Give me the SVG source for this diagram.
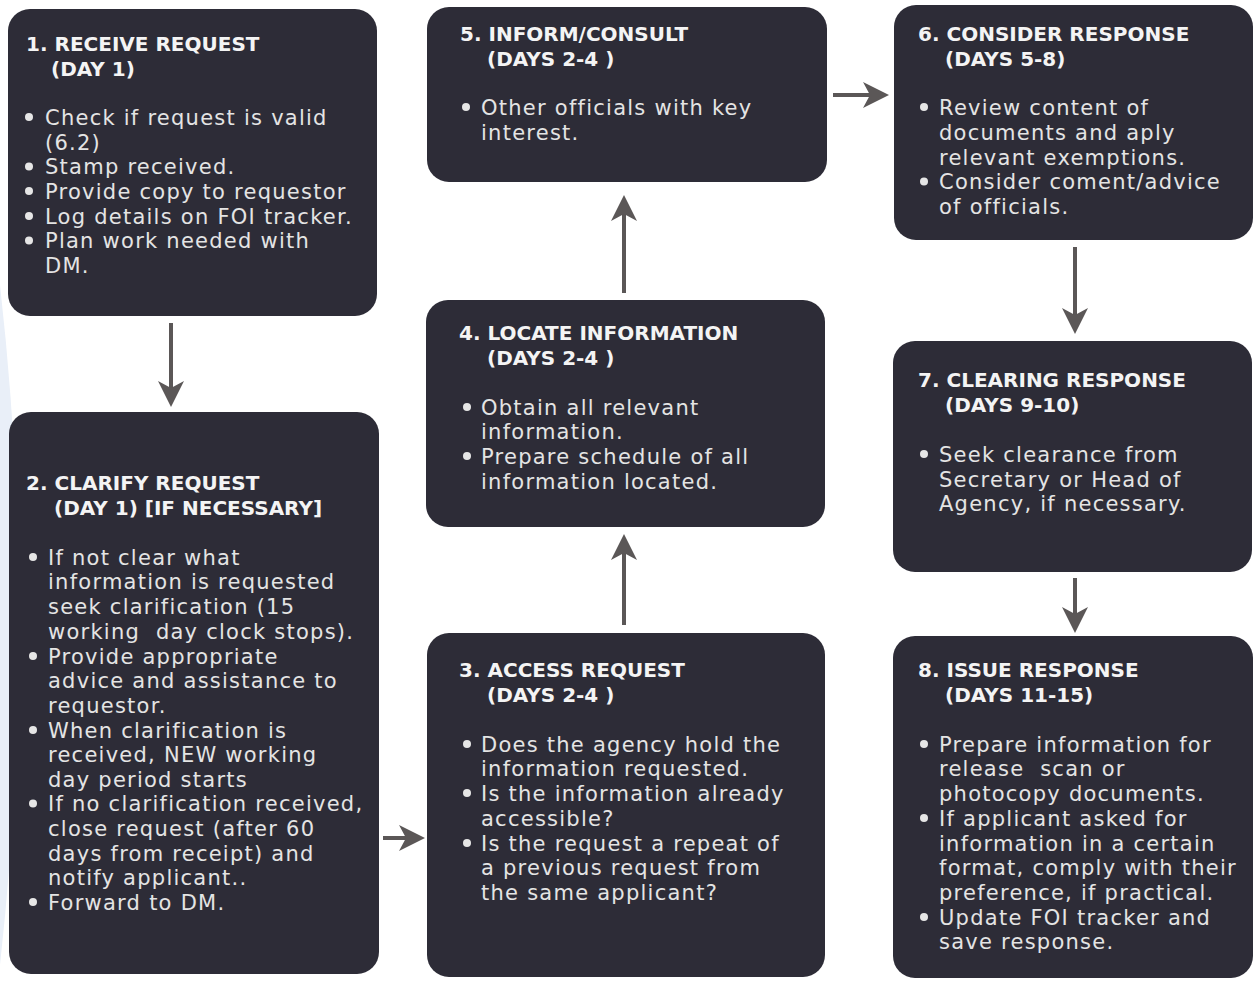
<svg xmlns="http://www.w3.org/2000/svg" width="1255" height="983" viewBox="0 0 1255 983">
<style>
.box{fill:#2d2c37}
.h{font-family:"DejaVu Sans",Verdana,sans-serif;font-weight:bold;font-size:20px;fill:#f4f4f4;white-space:pre}
.t{font-family:"DejaVu Sans",Verdana,sans-serif;font-size:21px;letter-spacing:1.25px;fill:#e4e4e4;white-space:pre}
.b{fill:#e6e6e6}
.c{stroke:#5b5757;stroke-width:4;fill:none;marker-end:url(#ah)}
</style>
<defs>
<marker id="ah" markerUnits="userSpaceOnUse" viewBox="0 0 26 26" markerWidth="26" markerHeight="26" refX="8" refY="13" orient="auto">
<path d="M0,0 L26,13 L0,26 L7,13 Z" fill="#5b5757"/>
</marker>
</defs>
<rect width="1255" height="983" fill="#ffffff"/>
<path d="M0,285 Q38,620 0,965 Z" fill="#e9eff8"/>
<g id="connectors">
<line class="c" x1="171" y1="323" x2="171" y2="389"/>
<line class="c" x1="383" y1="838" x2="407" y2="838"/>
<line class="c" x1="624" y1="625" x2="624" y2="552"/>
<line class="c" x1="624" y1="293" x2="624" y2="213"/>
<line class="c" x1="833" y1="95" x2="871" y2="95"/>
<line class="c" x1="1075" y1="247" x2="1075" y2="316"/>
<line class="c" x1="1075" y1="578" x2="1075" y2="615"/>
</g>
<g id="n1">
<rect class="box" x="8" y="9" width="369" height="307" rx="22"/>
<text class="h"><tspan x="26" y="50.5">1. RECEIVE REQUEST</tspan><tspan x="51" y="75.5">(DAY 1)</tspan></text>
<circle class="b" cx="29" cy="117" r="4"/><circle class="b" cx="29" cy="166.5" r="4"/><circle class="b" cx="29" cy="191" r="4"/><circle class="b" cx="29" cy="216" r="4"/><circle class="b" cx="29" cy="240.5" r="4"/>
<text class="t"><tspan x="45" y="124.5">Check if request is valid</tspan><tspan x="45" y="149.5">(6.2)</tspan><tspan x="45" y="174">Stamp received.</tspan><tspan x="45" y="198.5">Provide copy to requestor</tspan><tspan x="45" y="223.5">Log details on FOI tracker.</tspan><tspan x="45" y="248">Plan work needed with</tspan><tspan x="45" y="273">DM.</tspan></text>
</g>
<g id="n2">
<rect class="box" x="9" y="412" width="370" height="562" rx="22"/>
<text class="h"><tspan x="26" y="489.5">2. CLARIFY REQUEST</tspan><tspan x="54" y="514.5">(DAY 1) [IF NECESSARY]</tspan></text>
<circle class="b" cx="33" cy="557" r="4"/><circle class="b" cx="33" cy="656" r="4"/><circle class="b" cx="33" cy="730" r="4"/><circle class="b" cx="33" cy="803.5" r="4"/><circle class="b" cx="33" cy="902" r="4"/>
<text class="t"><tspan x="48" y="564.5">If not clear what</tspan><tspan x="48" y="589">information is requested</tspan><tspan x="48" y="614">seek clarification (15</tspan><tspan x="48" y="638.5">working  day clock stops).</tspan><tspan x="48" y="663.5">Provide appropriate</tspan><tspan x="48" y="688">advice and assistance to</tspan><tspan x="48" y="712.5">requestor.</tspan><tspan x="48" y="737.5">When clarification is</tspan><tspan x="48" y="762">received, NEW working</tspan><tspan x="48" y="786.5">day period starts</tspan><tspan x="48" y="811">If no clarification received,</tspan><tspan x="48" y="835.5">close request (after 60</tspan><tspan x="48" y="860.5">days from receipt) and</tspan><tspan x="48" y="885">notify applicant..</tspan><tspan x="48" y="909.5">Forward to DM.</tspan></text>
</g>
<g id="n3">
<rect class="box" x="427" y="633" width="398" height="344" rx="22"/>
<text class="h"><tspan x="459" y="676.5">3. ACCESS REQUEST</tspan><tspan x="487" y="701.5">(DAYS 2-4 )</tspan></text>
<circle class="b" cx="467" cy="744" r="4"/><circle class="b" cx="467" cy="793" r="4"/><circle class="b" cx="467" cy="843" r="4"/>
<text class="t"><tspan x="481" y="751.5">Does the agency hold the</tspan><tspan x="481" y="775.5">information requested.</tspan><tspan x="481" y="800.5">Is the information already</tspan><tspan x="481" y="825.5">accessible?</tspan><tspan x="481" y="850.5">Is the request a repeat of</tspan><tspan x="481" y="874.5">a previous request from</tspan><tspan x="481" y="899.5">the same applicant?</tspan></text>
</g>
<g id="n4">
<rect class="box" x="426" y="300" width="399" height="227" rx="22"/>
<text class="h"><tspan x="459" y="339.5">4. LOCATE INFORMATION</tspan><tspan x="487" y="364.5">(DAYS 2-4 )</tspan></text>
<circle class="b" cx="467" cy="407" r="4"/><circle class="b" cx="467" cy="456" r="4"/>
<text class="t"><tspan x="481" y="414.5">Obtain all relevant</tspan><tspan x="481" y="438.5">information.</tspan><tspan x="481" y="463.5">Prepare schedule of all</tspan><tspan x="481" y="488.5">information located.</tspan></text>
</g>
<g id="n5">
<rect class="box" x="427" y="7" width="400" height="175" rx="22"/>
<text class="h"><tspan x="460" y="40.5">5. INFORM/CONSULT</tspan><tspan x="487" y="65.5">(DAYS 2-4 )</tspan></text>
<circle class="b" cx="466" cy="107" r="4"/>
<text class="t"><tspan x="481" y="114.5">Other officials with key</tspan><tspan x="481" y="139.5">interest.</tspan></text>
</g>
<g id="n6">
<rect class="box" x="894" y="5" width="359" height="235" rx="22"/>
<text class="h"><tspan x="918" y="40.5">6. CONSIDER RESPONSE</tspan><tspan x="945" y="65.5">(DAYS 5-8)</tspan></text>
<circle class="b" cx="924" cy="107" r="4"/><circle class="b" cx="924" cy="181.5" r="4"/>
<text class="t"><tspan x="939" y="114.5">Review content of</tspan><tspan x="939" y="139.5">documents and aply</tspan><tspan x="939" y="164.5">relevant exemptions.</tspan><tspan x="939" y="189">Consider coment/advice</tspan><tspan x="939" y="213.5">of officials.</tspan></text>
</g>
<g id="n7">
<rect class="box" x="893" y="341" width="359" height="231" rx="22"/>
<text class="h"><tspan x="918" y="386.5">7. CLEARING RESPONSE</tspan><tspan x="945" y="411.5">(DAYS 9-10)</tspan></text>
<circle class="b" cx="924" cy="454" r="4"/>
<text class="t"><tspan x="939" y="461.5">Seek clearance from</tspan><tspan x="939" y="486.5">Secretary or Head of</tspan><tspan x="939" y="510.5">Agency, if necessary.</tspan></text>
</g>
<g id="n8">
<rect class="box" x="893" y="636" width="360" height="342" rx="22"/>
<text class="h"><tspan x="918" y="676.5">8. ISSUE RESPONSE</tspan><tspan x="945" y="701.5">(DAYS 11-15)</tspan></text>
<circle class="b" cx="924" cy="744" r="4"/><circle class="b" cx="924" cy="818" r="4"/><circle class="b" cx="924" cy="917" r="4"/>
<text class="t"><tspan x="939" y="751.5">Prepare information for</tspan><tspan x="939" y="776">release  scan or</tspan><tspan x="939" y="801">photocopy documents.</tspan><tspan x="939" y="825.5">If applicant asked for</tspan><tspan x="939" y="850.5">information in a certain</tspan><tspan x="939" y="875">format, comply with their</tspan><tspan x="939" y="899.5">preference, if practical.</tspan><tspan x="939" y="924.5">Update FOI tracker and</tspan><tspan x="939" y="948.5">save response.</tspan></text>
</g>
</svg>
